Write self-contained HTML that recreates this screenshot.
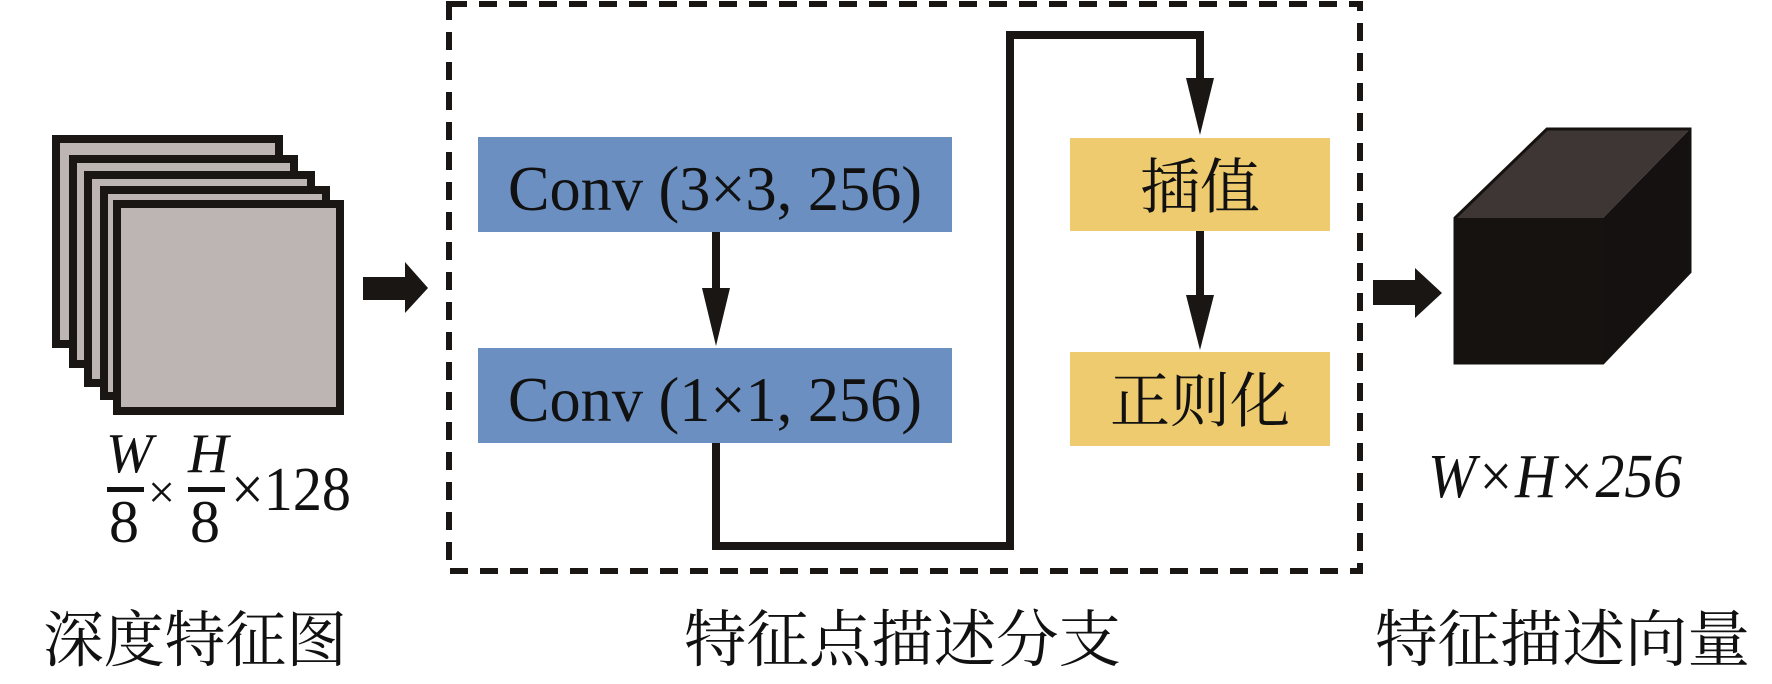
<!DOCTYPE html>
<html><head><meta charset="utf-8"><style>
html,body{margin:0;padding:0;background:#fff;}
svg{display:block;}
.t{font-family:"Liberation Serif","Times New Roman","DejaVu Serif","Noto Serif CJK SC",serif;fill:#111;}
.c{font-family:"Liberation Serif","Noto Serif CJK SC","Noto Serif CJK","AR PL UMing CN","WenQuanYi Zen Hei",serif;fill:#111;}
</style></head><body>
<svg width="1772" height="684" viewBox="0 0 1772 684" xmlns="http://www.w3.org/2000/svg">
<rect width="1772" height="684" fill="#fff"/>
<g fill="#bdb5b3" stroke="#1a1614" stroke-width="8">
<rect x="56" y="139" width="223" height="205"/>
<rect x="73" y="159" width="221" height="205"/>
<rect x="88" y="175" width="223" height="208"/>
<rect x="104" y="190" width="222" height="206"/>
<rect x="117" y="204" width="223" height="207"/>
</g>
<text class="t" x="106" y="472" font-size="56" font-style="italic">W</text>
<rect x="107" y="487" width="37" height="5" fill="#111"/>
<text class="t" x="109" y="542" font-size="60">8</text>
<text class="t" x="148" y="508" font-size="48">×</text>
<text class="t" x="188" y="472" font-size="56" font-style="italic">H</text>
<rect x="188" y="487" width="37" height="5" fill="#111"/>
<text class="t" x="190" y="542" font-size="60">8</text>
<text class="t" x="231" y="510" font-size="62" textLength="120" lengthAdjust="spacingAndGlyphs">×128</text>
<polygon points="363,277 405,277 405,262 428,288 405,313 405,300 363,300" fill="#1a1614"/>
<rect x="449" y="4" width="911" height="567" fill="none" stroke="#1a1614" stroke-width="6" stroke-dasharray="18,12"/>
<rect x="478" y="137" width="474" height="95" fill="#6b8fc1"/>
<rect x="478" y="348" width="474" height="95" fill="#6b8fc1"/>
<text class="t" x="508" y="210" font-size="64" textLength="414" lengthAdjust="spacingAndGlyphs">Conv (3×3, 256)</text>
<text class="t" x="508" y="421" font-size="64" textLength="414" lengthAdjust="spacingAndGlyphs">Conv (1×1, 256)</text>
<rect x="712" y="232" width="8" height="58" fill="#1a1614"/>
<polygon points="702,288 730,288 716,346" fill="#1a1614"/>
<polyline points="716,443 716,546 1010,546 1010,35 1200,35 1200,80" fill="none" stroke="#1a1614" stroke-width="8"/>
<polygon points="1186,78 1214,78 1200,135" fill="#1a1614"/>
<rect x="1070" y="138" width="260" height="93" fill="#eecb6e"/>
<rect x="1070" y="352" width="260" height="94" fill="#eecb6e"/>
<text class="c" x="1200" y="208" font-size="60" text-anchor="middle">插值</text>
<text class="c" x="1200" y="422" font-size="60" text-anchor="middle">正则化</text>
<rect x="1196" y="231" width="8" height="66" fill="#1a1614"/>
<polygon points="1186,295 1214,295 1200,350" fill="#1a1614"/>
<polygon points="1373,280 1415,280 1415,268 1442,293 1415,318 1415,305 1373,305" fill="#1a1614"/>
<polygon points="1455,218 1547,129 1690,129 1603,218" fill="#3d3634"/>
<polygon points="1603,218 1690,129 1690,272 1603,363" fill="#141110"/>
<rect x="1455" y="218" width="148" height="145" fill="#161210"/>
<polygon points="1455,218 1547,129 1690,129 1690,272 1603,363 1455,363" fill="none" stroke="#161210" stroke-width="3"/>
<text class="t" x="1428" y="497" font-size="62" font-style="italic" textLength="254" lengthAdjust="spacingAndGlyphs">W×H×256</text>
<text class="c" x="43" y="661" font-size="61" textLength="304" lengthAdjust="spacingAndGlyphs">深度特征图</text>
<text class="c" x="684" y="661" font-size="62" textLength="437" lengthAdjust="spacingAndGlyphs">特征点描述分支</text>
<text class="c" x="1375" y="661" font-size="62" textLength="375" lengthAdjust="spacingAndGlyphs">特征描述向量</text>
</svg>
</body></html>
